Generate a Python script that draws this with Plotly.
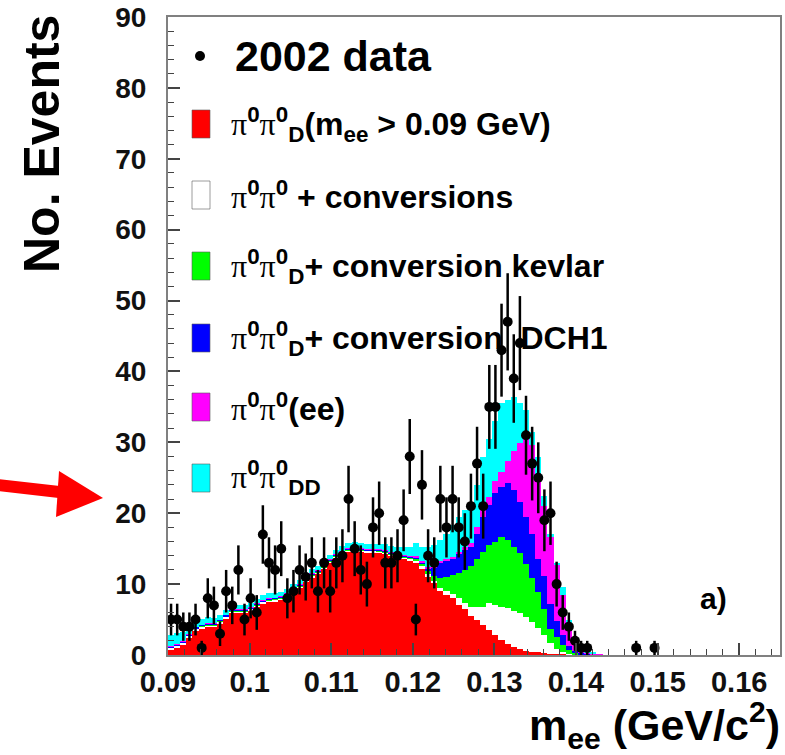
import numpy as np
import plotly.graph_objects as go

# ---------------- data ----------------
bin_low = 0.09
bin_width = 0.00075

red_dalitz = [0.7, 1.0, 1.5, 2.5, 3.5, 3.8, 4.0, 4.0, 4.5, 5.2,
              6.0, 6.0, 6.0, 6.3, 6.8, 7.3, 7.5, 7.6, 7.8, 8.2,
              8.9, 9.5, 10.4, 11.0, 11.5, 12.2, 13.0, 13.7, 14.2, 14.6,
              14.8, 14.6, 14.5, 14.5, 14.4, 14.3, 14.0, 13.8, 13.6, 13.4,
              13.0, 12.2, 11.0, 10.2, 9.0, 8.4, 8.0, 7.0, 6.5, 5.5,
              4.9, 4.2, 3.5, 2.8, 2.1, 1.6, 1.1, 0.8, 0.5, 0.4,
              0.4, 0.3, 0.2, 0.1, 0.1, 0, 0, 0, 0, 0, 0]

white_conv = [0.3, 0.3, 0.2, 0.2, 0.2, 0.2, 0.2, 0.2, 0.2, 0.2,
              0.2, 0.2, 0.2, 0.2, 0.2, 0.2, 0.2, 0.2, 0.2, 0.2,
              0.2, 0.2, 0.2, 0.2, 0.2, 0.2, 0.2, 0.2, 0.2, 0.2,
              0.2, 0.2, 0.2, 0.2, 0.2, 0.2, 0.2, 0.2, 0.2, 0.2,
              0.2, 0.3, 0.4, 0.3, 0.5, 0.6, 0.6, 1.0, 0.8, 1.3,
              1.9, 2.6, 3.8, 4.2, 4.7, 5.0, 5.1, 5.1, 4.8, 4.3,
              3.4, 2.5, 1.5, 0.8, 0.3, 0.2, 0.1, 0, 0, 0, 0]

green_kevlar = [0.1, 0.1, 0.1, 0.1, 0.1, 0.1, 0.1, 0.1, 0.1, 0.1,
                0.1, 0.1, 0.1, 0.1, 0.1, 0.1, 0.1, 0.1, 0.1, 0.1,
                0.1, 0.1, 0.1, 0.1, 0.1, 0.1, 0.1, 0.1, 0.1, 0.1,
                0.1, 0.1, 0.1, 0.1, 0.1, 0.1, 0.1, 0.1, 0.1, 0.1,
                0.3, 0.3, 0.4, 0.7, 1.3, 2.0, 2.7, 3.6, 4.7, 5.7,
                6.7, 7.7, 8.2, 9.0, 9.8, 9.6, 9.0, 8.5, 7.5, 6.1,
                5.1, 3.7, 2.0, 1.6, 1.0, 0.5, 0.2, 0.1, 0, 0, 0]

blue_dch1 = [0.15, 0.15, 0.15, 0.15, 0.15, 0.15, 0.15, 0.15, 0.15, 0.15,
             0.15, 0.15, 0.15, 0.15, 0.15, 0.15, 0.15, 0.15, 0.15, 0.15,
             0.15, 0.15, 0.15, 0.15, 0.15, 0.15, 0.15, 0.15, 0.15, 0.15,
             0.15, 0.15, 0.15, 0.15, 0.15, 0.15, 0.15, 0.15, 0.15, 0.15,
             0.3, 0.3, 0.4, 1.1, 2.2, 2.2, 2.2, 2.6, 2.8, 2.7,
             3.5, 5.0, 5.7, 6.8, 7.1, 8.0, 8.1, 7.2, 6.7, 6.2,
             4.6, 4.7, 3.5, 2.3, 1.4, 0.6, 0.3, 0.2, 0.1, 0, 0]

magenta_ee = [0.05, 0.05, 0.05, 0.05, 0.05, 0.05, 0.05, 0.05, 0.05, 0.05,
              0.05, 0.05, 0.05, 0.05, 0.05, 0.05, 0.05, 0.05, 0.05, 0.05,
              0.05, 0.05, 0.05, 0.05, 0.05, 0.05, 0.05, 0.05, 0.05, 0.05,
              0.05, 0.05, 0.05, 0.05, 0.05, 0.05, 0.05, 0.05, 0.05, 0.05,
              0.2, 0.2, 0.2, 0.2, 0.2, 0.3, 0.3, 0.3, 0.4, 0.6,
              1.0, 1.0, 1.1, 1.7, 2.1, 3.1, 5.5, 8.3, 11.3, 12.6,
              12.0, 9.8, 9.4, 8.0, 5.7, 3.2, 1.2, 0.5, 0.3, 0.2, 0.1]

cyan_dd = [1.5, 1.5, 1.3, 1.2, 1.0, 0.8, 0.8, 0.7, 0.7, 0.7,
           0.6, 0.6, 0.6, 0.6, 0.6, 0.7, 0.7, 0.7, 0.6, 0.6,
           0.6, 0.6, 0.7, 0.7, 0.6, 0.6, 0.6, 0.6, 0.7, 0.7,
           0.7, 0.7, 0.7, 0.7, 0.7, 0.8, 0.9, 1.0, 1.1, 1.4,
           1.8, 1.9, 2.8, 3.0, 3.0, 3.5, 4.5, 5.0, 5.3, 5.2,
           6.0, 7.5, 8.2, 8.5, 9.7, 8.7, 7.6, 5.7, 3.8, 1.9,
           2.5, 1.5, 0.4, 0.2, 1.1, 0.5, 0.4, 0.2, 0.1, 0.1, 0]

data_2002 = [5, 5, 4, 4, 5, 1, 8, 7, 3, 9,
             7, 12, 5, 8, 6, 17, 13, 12, 15, 8,
             9, 12, 11, 13, 9, 13, 9, 13, 14, 22,
             15, 12, 10, 18, 20, 13, 13, 14, 19, 28,
             5, 24, 14, 13, 22, 18, 22, 18, 16, 21,
             27, 21, 35, 35, 43, 47, 39, 44, 31, 27,
             25, 19, 20, 10, 6, 4, 2, 1, 1, 0,
             0, 0, 0, 0, 0, 0, 1, 0, 0, 1]

x_tick_values = [0.09, 0.10, 0.11, 0.12, 0.13, 0.14, 0.15, 0.16]
x_tick_labels = ["0.09", "0.1", "0.11", "0.12", "0.13", "0.14", "0.15", "0.16"]
y_tick_values = [0, 10, 20, 30, 40, 50, 60, 70, 80, 90]

PI = "<span style=\"font-family:'Liberation Serif';font-weight:normal\">π</span>"
legend_labels = [
    PI + "<sup>0</sup>" + PI + "<sup>0</sup><sub>D</sub>(m<sub>ee</sub> > 0.09 GeV)",
    PI + "<sup>0</sup>" + PI + "<sup>0</sup> + conversions",
    PI + "<sup>0</sup>" + PI + "<sup>0</sup><sub>D</sub>+ conversion kevlar",
    PI + "<sup>0</sup>" + PI + "<sup>0</sup><sub>D</sub>+ conversion  DCH1",
    PI + "<sup>0</sup>" + PI + "<sup>0</sup>(ee)",
    PI + "<sup>0</sup>" + PI + "<sup>0</sup><sub>DD</sub>",
]
layer_colors = ["#ff0000", "#ffffff", "#00ff00", "#0000ff", "#ff00ff", "#00ffff"]
layers = [red_dalitz, white_conv, green_kevlar, blue_dch1, magenta_ee, cyan_dd]

# ---------------- figure ----------------
FW, FH = 785, 755
ML, MR, MT, MB = 168, 5, 17, 100
PW, PH = FW - ML - MR, FH - MT - MB


def px(x):
    return (x - ML) / PW


def py(y):
    return (FH - MB - y) / PH


fig = go.Figure()
FONT = "Liberation Sans, Arial, sans-serif"

for vals, col in zip(layers, layer_colors):
    centers = bin_low + (np.arange(len(vals)) + 0.5) * bin_width
    fig.add_trace(go.Bar(x=centers, y=vals, width=bin_width,
                         marker=dict(color=col, line=dict(width=0)),
                         showlegend=False, hoverinfo="skip"))

d = np.array(data_2002, dtype=float)
dc = bin_low + (np.arange(len(d)) + 0.5) * bin_width
mask = d > 0
fig.add_trace(go.Scatter(x=dc[mask], y=d[mask], mode="markers",
                         marker=dict(color="black", size=10),
                         error_y=dict(type="data", array=np.sqrt(d[mask]),
                                      color="black", thickness=2.5, width=0),
                         showlegend=False))

axis_col = "#808080"
fig.update_layout(
    width=FW, height=FH,
    margin=dict(l=ML, r=MR, t=MT, b=MB),
    paper_bgcolor="white", plot_bgcolor="white",
    barmode="stack", bargap=0, showlegend=False,
    font=dict(family=FONT, color="black"),
    xaxis=dict(range=[0.09, 0.165], tickvals=x_tick_values, ticktext=x_tick_labels,
               ticks="inside", ticklen=12, tickwidth=1.5, tickcolor="#444",
               minor=dict(dtick=0.002, tick0=0.09, ticks="inside", ticklen=6,
                          tickwidth=1, tickcolor="#444"),
               showline=True, linecolor=axis_col, linewidth=2, mirror=True,
               showgrid=False, zeroline=False, automargin=False,
               tickfont=dict(size=29, family=FONT, weight="bold", color="#111"),
               ticklabelstandoff=0),
    yaxis=dict(range=[0, 90], tickvals=y_tick_values,
               ticks="inside", ticklen=12, tickwidth=1.5, tickcolor="#444",
               minor=dict(dtick=2, tick0=0, ticks="inside", ticklen=6,
                          tickwidth=1, tickcolor="#444"),
               showline=True, linecolor=axis_col, linewidth=2, mirror=True,
               showgrid=False, zeroline=False, automargin=False,
               tickfont=dict(size=28, family=FONT, weight="bold", color="#111"),
               ticklabelstandoff=14),
)

annotations = []
shapes = []

# axis titles
annotations.append(dict(xref="paper", yref="paper", x=px(42), y=py(144),
                        text="No. Events", textangle=-90, showarrow=False,
                        xanchor="center", yanchor="middle",
                        font=dict(size=50, family=FONT, weight="bold")))
annotations.append(dict(xref="paper", yref="paper", x=px(782), y=py(757),
                        text="m<sub>ee</sub> (GeV/c<sup>2</sup>)", showarrow=False,
                        xanchor="right", yanchor="bottom",
                        font=dict(size=43, family=FONT, weight="bold")))
annotations.append(dict(xref="paper", yref="paper", x=px(713), y=py(598),
                        text="a)", showarrow=False, xanchor="center", yanchor="middle",
                        font=dict(size=30, family=FONT, weight="bold")))

# legend (ROOT style, drawn inside the frame)
annotations.append(dict(xref="paper", yref="paper", x=px(233), y=py(56),
                        text="2002 data", showarrow=False, xanchor="left",
                        yanchor="middle",
                        font=dict(size=43, family=FONT, weight="bold")))
shapes.append(dict(type="circle", xref="paper", yref="paper",
                   x0=px(195), x1=px(205), y0=py(61), y1=py(51),
                   fillcolor="black", line=dict(width=0)))
rows = [124, 195, 266, 338, 407, 478]
for yc, lab, col in zip(rows, legend_labels, layer_colors):
    shapes.append(dict(type="rect", xref="paper", yref="paper",
                       x0=px(192), x1=px(210), y0=py(yc + 14), y1=py(yc - 14),
                       fillcolor=col, line=dict(width=1, color="rgba(90,90,90,0.6)")))
    annotations.append(dict(xref="paper", yref="paper", x=px(229), y=py(yc),
                            text=lab, showarrow=False, xanchor="left",
                            yanchor="middle",
                            font=dict(size=32, family=FONT, weight="bold")))

# red arrow in the left margin
shapes.append(dict(type="line", xref="paper", yref="paper",
                   x0=px(-2), y0=py(485), x1=px(68), y1=py(493),
                   line=dict(color="#ff0000", width=12)))
shapes.append(dict(type="path", xref="paper", yref="paper",
                   path="M {} {} L {} {} L {} {} Z".format(px(59), py(471), px(56), py(517),
                                                          px(103), py(498)),
                   fillcolor="#ff0000", line=dict(width=0)))

fig.update_layout(annotations=annotations, shapes=shapes)
fig.write_html("out.html")
